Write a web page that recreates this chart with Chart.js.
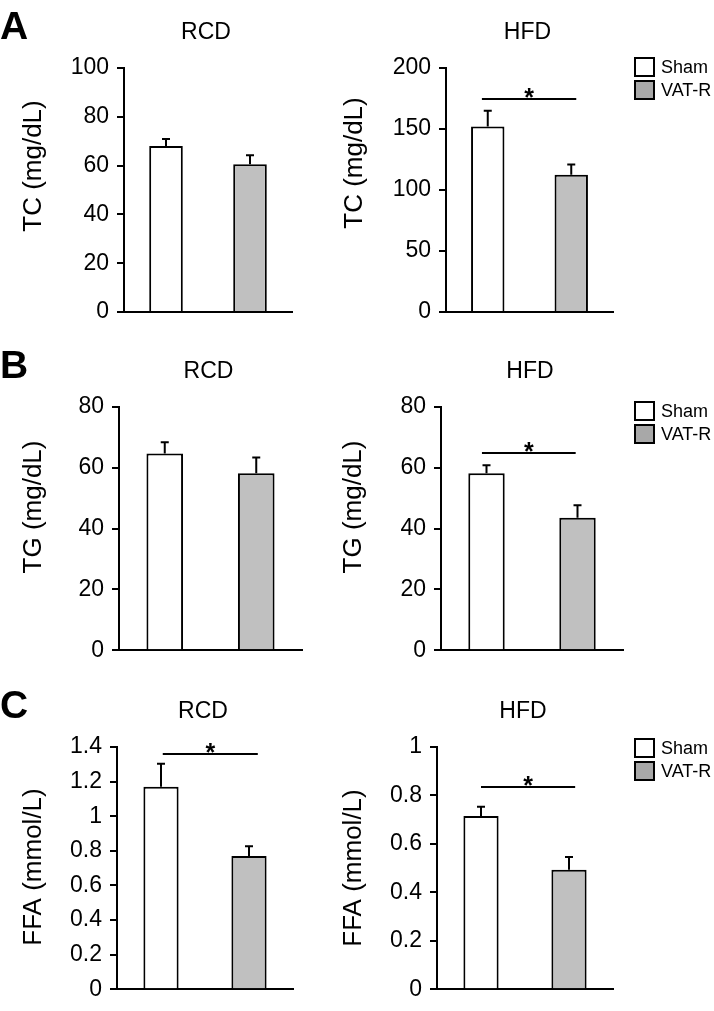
<!DOCTYPE html>
<html>
<head>
<meta charset="utf-8">
<script src="https://cdn.jsdelivr.net/npm/chart.js@4.4.0/dist/chart.umd.min.js"></script>
<style>
    html, body { margin: 0; padding: 0; background: #fff; }
    #fig { position: relative; width: 714px; height: 1011px; overflow: hidden; }
    canvas { position: absolute; }
</style>
</head>
<body>
<div id="fig"></div>
<script>
//! ==================== Data ====================
const groups = ["Sham", "VAT-R"];

const tcRCD = [68.0, 60.6];
const tcRCDErr = [2.9, 3.6];
const tcHFD = [152.0, 112.6];
const tcHFDErr = [13.0, 8.4];

const tgRCD = [64.7, 58.2];
const tgRCDErr = [3.7, 5.2];
const tgHFD = [58.2, 43.6];
const tgHFDErr = [2.6, 4.1];

const ffaRCD = [1.17, 0.77];
const ffaRCDErr = [0.133, 0.057];
const ffaHFD = [0.715, 0.493];
const ffaHFDErr = [0.038, 0.053];

const ticks100 = [0, 20, 40, 60, 80, 100];
const ticks200 = [0, 50, 100, 150, 200];
const ticks80 = [0, 20, 40, 60, 80];
const ticks14 = [0, 0.2, 0.4, 0.6, 0.8, 1, 1.2, 1.4];
const ticks1 = [0, 0.2, 0.4, 0.6, 0.8, 1];
const labels100 = ["0", "20", "40", "60", "80", "100"];
const labels200 = ["0", "50", "100", "150", "200"];
const labels80 = ["0", "20", "40", "60", "80"];
const labels14 = ["0", "0.2", "0.4", "0.6", "0.8", "1", "1.2", "1.4"];
const labels1 = ["0", "0.2", "0.4", "0.6", "0.8", "1"];

// significance bar level (in axis units), null = none
const sigLevel = [null, 174.6, null, 65, 1.36, 0.836];

//! ==================== Layout ====================
const FONT = "'Liberation Sans', Arial, Helvetica, sans-serif";
const fills = ["#ffffff", "#c0c0c0"];
const legendFills = ["#ffffff", "#a8a8a8"];

const panels = [
    { letter: "A", title: "RCD", ylabel: "TC (mg/dL)", values: tcRCD, errs: tcRCDErr, ticks: ticks100, labels: labels100, sig: sigLevel[0],
      x0: 0, y0: 0, w: 330, h: 335, l: 124, r: 292, t: 68, b: 312, titleY: 33, ytitleY: 166, ytitleX: 34 },
    { title: "HFD", ylabel: "TC (mg/dL)", values: tcHFD, errs: tcHFDErr, ticks: ticks200, labels: labels200, sig: sigLevel[1], span: [-0.07, 1.06],
      x0: 330, y0: 0, w: 384, h: 335, l: 446, r: 613, t: 68, b: 312, titleY: 33, ytitleY: 163, ytitleX: 355, legendTop: 57 },
    { letter: "B", title: "RCD", ylabel: "TG (mg/dL)", values: tgRCD, errs: tgRCDErr, ticks: ticks80, labels: labels80, sig: sigLevel[2],
      x0: 0, y0: 335, w: 330, h: 337, l: 119, r: 302, t: 407, b: 652, titleY: 372, ytitleY: 507, ytitleX: 34 },
    { title: "HFD", ylabel: "TG (mg/dL)", values: tgHFD, errs: tgHFDErr, ticks: ticks80, labels: labels80, sig: sigLevel[3], span: [-0.05, 0.98],
      x0: 330, y0: 335, w: 384, h: 337, l: 441, r: 623, t: 407, b: 652, titleY: 372, ytitleY: 507, ytitleX: 354, legendTop: 401 },
    { letter: "C", title: "RCD", ylabel: "FFA (mmol/L)", values: ffaRCD, errs: ffaRCDErr, ticks: ticks14, labels: labels14, sig: sigLevel[4], span: [0.02, 1.1],
      x0: 0, y0: 672, w: 330, h: 339, l: 117, r: 293, t: 747, b: 992, titleY: 712, ytitleY: 867, ytitleX: 34 },
    { title: "HFD", ylabel: "FFA (mmol/L)", values: ffaHFD, errs: ffaHFDErr, ticks: ticks1, labels: labels1, sig: sigLevel[5], span: [0.0, 1.07],
      x0: 330, y0: 672, w: 384, h: 339, l: 437, r: 613, t: 747, b: 992, titleY: 712, ytitleY: 868, ytitleX: 354, legendTop: 738 }
];

Chart.defaults.font.family = FONT;
Chart.defaults.color = "#000";

const fig = document.getElementById("fig");

panels.forEach(p => {
    const canvas = document.createElement("canvas");
    canvas.width = p.w;
    canvas.height = p.h;
    canvas.style.left = p.x0 + "px";
    canvas.style.top = p.y0 + "px";
    fig.appendChild(canvas);

    // error bars, significance, titles, legend
    const extras = {
        id: "extras",
        afterDraw(chart) {
            const { ctx, chartArea } = chart;
            const xs = chart.scales.x, ys = chart.scales.y;
            const meta = chart.getDatasetMeta(0);
            ctx.save();
            ctx.strokeStyle = "#000";
            ctx.lineWidth = 2;

            // error bars (upper only)
            meta.data.forEach((bar, i) => {
                const yTop = ys.getPixelForValue(p.values[i] + p.errs[i]);
                ctx.beginPath();
                ctx.moveTo(bar.x, bar.y);
                ctx.lineTo(bar.x, yTop);
                ctx.moveTo(bar.x - 4, yTop);
                ctx.lineTo(bar.x + 4, yTop);
                ctx.stroke();
            });

            // significance line
            if (p.sig != null) {
                const y = Math.round(ys.getPixelForValue(p.sig));
                const x1 = xs.getPixelForValue(p.span[0]);
                const x2 = xs.getPixelForValue(p.span[1]);
                ctx.beginPath();
                ctx.moveTo(x1, y);
                ctx.lineTo(x2, y);
                ctx.stroke();
                ctx.fillStyle = "#000";
                ctx.font = "bold 25px " + FONT;
                ctx.textAlign = "center";
                ctx.textBaseline = "alphabetic";
                ctx.fillText("*", (x1 + x2) / 2, y + 7);
            }

            ctx.fillStyle = "#000";
            // panel title
            ctx.font = "23px " + FONT;
            ctx.textAlign = "center";
            ctx.textBaseline = "middle";
            ctx.fillText(p.title, (chartArea.left + chartArea.right) / 2 - 2, p.titleY - p.y0);

            // y axis title
            ctx.save();
            ctx.translate(p.ytitleX - p.x0, p.ytitleY - p.y0);
            ctx.rotate(-Math.PI / 2);
            ctx.font = "26px " + FONT;
            ctx.fillText(p.ylabel, 0, 0);
            ctx.restore();

            // panel letter
            if (p.letter) {
                ctx.font = "bold 39px " + FONT;
                ctx.textAlign = "left";
                ctx.textBaseline = "alphabetic";
                ctx.fillText(p.letter, 0, p.titleY - p.y0 + 6);
            }

            // legend
            if (p.legendTop != null) {
                const lx = 634 - p.x0;
                ctx.font = "18px " + FONT;
                ctx.textAlign = "left";
                ctx.textBaseline = "middle";
                groups.forEach((g, i) => {
                    const ty = p.legendTop - p.y0 + i * 23;
                    ctx.fillStyle = legendFills[i];
                    ctx.fillRect(lx + 1, ty + 1, 19, 18);
                    ctx.strokeRect(lx + 1, ty + 1, 19, 18);
                    ctx.fillStyle = "#000";
                    ctx.fillText(g, lx + 27, ty + 11);
                });
            }
            ctx.restore();
        }
    };

    new Chart(canvas, {
        type: "bar",
        data: {
            labels: groups,
            datasets: [{
                data: p.values,
                backgroundColor: fills,
                borderColor: "#000",
                borderWidth: 2,
                barPercentage: 0.4,
                categoryPercentage: 1
            }]
        },
        options: {
            responsive: false,
            animation: false,
            events: [],
            layout: {
                padding: { left: 0, top: p.t - p.y0, right: p.x0 + p.w - p.r, bottom: p.y0 + p.h - p.b }
            },
            scales: {
                x: {
                    z: 1,
                    grid: { display: false },
                    ticks: { display: false },
                    border: { color: "#000", width: 2 },
                    afterFit: s => { s.height = 0; }
                },
                y: {
                    z: 1,
                    min: 0,
                    max: p.ticks[p.ticks.length - 1],
                    afterBuildTicks: s => { s.ticks = p.ticks.map(v => ({ value: v })); },
                    afterFit: s => { s.width = p.l - p.x0; },
                    grid: { drawOnChartArea: false, drawTicks: true, tickLength: 7, color: "#000", lineWidth: 2 },
                    border: { color: "#000", width: 2 },
                    ticks: {
                        padding: 8,
                        font: { size: 23 },
                        color: "#000",
                        callback: (v, i) => p.labels[i]
                    }
                }
            },
            plugins: {
                legend: { display: false },
                tooltip: { enabled: false }
            }
        },
        plugins: [extras]
    });
});
</script>
</body>
</html>
